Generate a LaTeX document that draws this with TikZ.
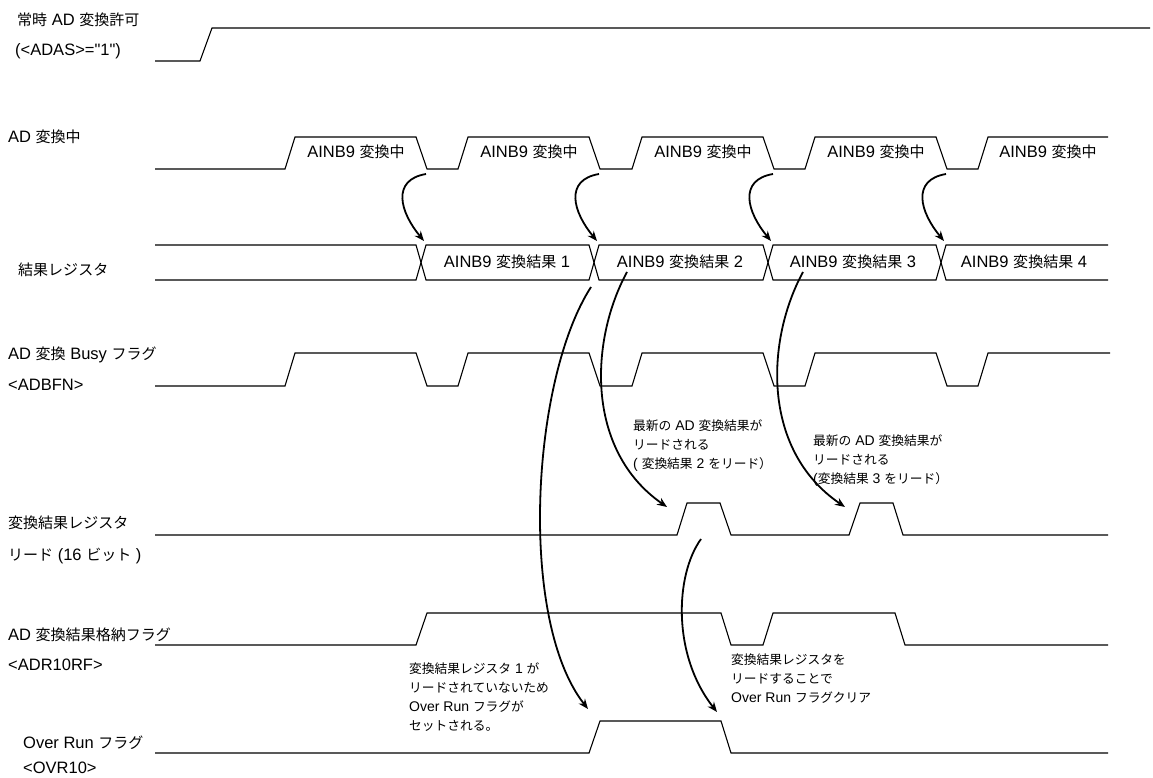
\documentclass[tikz,border=0pt]{standalone}
\usepackage{fontspec}
\setmainfont{Liberation Sans}[Ligatures=TeXOff]
\newfontfamily\jp{Noto Sans CJK JP}[Scale=0.91]
\usepackage{tikz}
\usetikzlibrary{arrows.meta}

\begin{document}
\begin{tikzpicture}[
    x=1pt, y=-1pt,
    sig/.style={line width=1.1pt, line join=miter},
    cause/.style={line width=1.8pt, -{Stealth[length=10pt, width=8pt]}},
    lbl/.style={anchor=west, inner sep=0pt, font=\fontsize{16.5}{19}\selectfont},
    buslbl/.style={inner sep=0pt, font=\fontsize{16.5}{19}\selectfont},
    note/.style={anchor=north west, align=left, inner sep=0pt,
                 font=\fontsize{14}{19}\selectfont},
  ]
  \useasboundingbox (0,0) rectangle (1153,778);

  \node[lbl] (adasa) at (17,20)  {{\jp 常時} AD {\jp 変換許可}};
  \node[lbl] (adasb) at (15,51)  {(<ADAS>="1")};
  \node[lbl] (conv)  at (8,137)  {AD {\jp 変換中}};
  \node[lbl] (reg)   at (18,270) {{\jp 結果レジスタ}};
  \node[lbl] (busya) at (8,355)  {AD {\jp 変換} Busy {\jp フラグ}};
  \node[lbl] (busyb) at (8,385)  {<ADBFN>};
  \node[lbl] (rda)   at (8,523)  {{\jp 変換結果レジスタ}};
  \node[lbl] (rdb)   at (8,556)  {{\jp リード} (16 {\jp ビット} )};
  \node[lbl] (rfa)   at (8,635)  {AD {\jp 変換結果格納フラグ}};
  \node[lbl] (rfb)   at (8,665)  {<ADR10RF>};
  \node[lbl] (ovra)  at (23,743) {Over Run {\jp フラグ}};
  \node[lbl] (ovrb)  at (23,768) {<OVR10>};

  \draw[sig] (155,61) -- (200,61) -- (212,28) -- (1150,28);

  \draw[sig] (155,169) -- (285,169) -- (295,137) -- (416,137) -- (427,169)
    -- (458,169) -- (468,137) -- (589,137) -- (600,169) -- (632,169)
    -- (642,137) -- (763,137) -- (774,169) -- (805,169) -- (815,137)
    -- (936,137) -- (947,169) -- (978,169) -- (988,137) -- (1108,137);
  \node[buslbl] (cv1t) at (356,152)  {AINB9 {\jp 変換中}};
  \node[buslbl] (cv2t) at (529,152)  {AINB9 {\jp 変換中}};
  \node[buslbl] (cv3t) at (703,152)  {AINB9 {\jp 変換中}};
  \node[buslbl] (cv4t) at (876,152)  {AINB9 {\jp 変換中}};
  \node[buslbl] (cv5t) at (1048,152) {AINB9 {\jp 変換中}};

  \draw[sig] (155,245) -- (416,245) -- (426,280) -- (589,280) -- (599,245)
    -- (763,245) -- (773,280) -- (936,280) -- (946,245) -- (1108,245);
  \draw[sig] (155,280) -- (416,280) -- (426,245) -- (589,245) -- (599,280)
    -- (763,280) -- (773,245) -- (936,245) -- (946,280) -- (1108,280);
  \node[buslbl] (rg1t) at (507,262)  {AINB9 {\jp 変換結果} 1};
  \node[buslbl] (rg2t) at (680,262)  {AINB9 {\jp 変換結果} 2};
  \node[buslbl] (rg3t) at (853,262)  {AINB9 {\jp 変換結果} 3};
  \node[buslbl] (rg4t) at (1024,262) {AINB9 {\jp 変換結果} 4};

  \draw[sig] (155,386) -- (285,386) -- (295,353) -- (416,353) -- (427,386)
    -- (458,386) -- (468,353) -- (589,353) -- (600,386) -- (632,386)
    -- (642,353) -- (763,353) -- (774,386) -- (805,386) -- (815,353)
    -- (936,353) -- (947,386) -- (978,386) -- (988,353) -- (1110,353);

  \draw[sig] (155,535) -- (677,535) -- (687,503) -- (720,503) -- (731,535)
    -- (849,535) -- (860,503) -- (893,503) -- (903,535) -- (1108,535);

  \draw[sig] (155,645) -- (416,645) -- (427,613) -- (721,613) -- (731,645)
    -- (763,645) -- (773,613) -- (895,613) -- (905,645) -- (1108,645);

  \draw[sig] (155,753) -- (589,753) -- (600,721) -- (721,721) -- (731,753)
    -- (1108,753);

  \coordinate (cv1) at (426,174);
  \coordinate (cv2) at (599,174);
  \coordinate (cv3) at (773,174);
  \coordinate (cv4) at (946,174);
  \coordinate (rg1) at (424,241);
  \coordinate (rg2) at (597,241);
  \coordinate (rg3) at (771,241);
  \coordinate (rg4) at (944,241);
  \draw[cause] (cv1) .. controls +(-35,6) and +(-24,-29) .. (rg1);
  \draw[cause] (cv2) .. controls +(-35,6) and +(-24,-29) .. (rg2);
  \draw[cause] (cv3) .. controls +(-35,6) and +(-24,-29) .. (rg3);
  \draw[cause] (cv4) .. controls +(-35,6) and +(-24,-29) .. (rg4);

  \coordinate (rg1s) at (591,287);
  \coordinate (rg2s) at (627,272);
  \coordinate (rg3s) at (803,272);
  \coordinate (rd1)  at (667,507);
  \coordinate (rd2)  at (845,507);
  \coordinate (rd1s) at (701,539);
  \coordinate (ov1)  at (588,709);
  \coordinate (ov2)  at (717,712);
  \draw[cause] (rg2s) .. controls +(-37,68) and +(-82,-57) .. (rd1);
  \draw[cause] (rg3s) .. controls +(-37,68) and +(-84,-57) .. (rd2);
  \draw[cause] (rg1s) .. controls +(-60,93) and +(-70,-89) .. (ov1);
  \draw[cause] (rd1s) .. controls +(-26,36) and +(-45,-57) .. (ov2);

  \node[note] (rdn1) at (633,420) {{\jp 最新の} AD {\jp 変換結果が}\\{\jp リードされる}\\( {\jp 変換結果} 2 {\jp をリード）}};
  \node[note] (rdn2) at (813,435) {{\jp 最新の} AD {\jp 変換結果が}\\{\jp リードされる}\\({\jp 変換結果} 3 {\jp をリード）}};
  \node[note] (ovn1) at (409,663) {{\jp 変換結果レジスタ} 1 {\jp が}\\{\jp リードされていないため}\\Over Run {\jp フラグが}\\{\jp セットされる。}};
  \node[note] (ovn2) at (731,654) {{\jp 変換結果レジスタを}\\{\jp リードすることで}\\Over Run {\jp フラグクリア}};
\end{tikzpicture}
\end{document}
